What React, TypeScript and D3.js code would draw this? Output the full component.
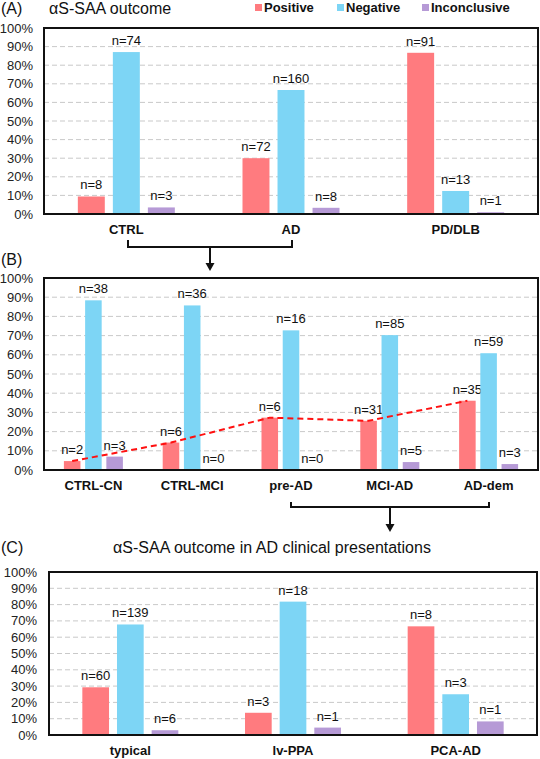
import React from "react";
import * as d3 from "d3";

const seriesNames = ["Positive", "Negative", "Inconclusive"];
const seriesColors = ["#FF7B7F", "#7DD5F5", "#B69AD6"];

const catsA = ["CTRL", "AD", "PD/DLB"];
const posA = [8, 72, 91];
const negA = [74, 160, 13];
const incA = [3, 8, 1];

const catsB = ["CTRL-CN", "CTRL-MCI", "pre-AD", "MCI-AD", "AD-dem"];
const posB = [2, 6, 6, 31, 35];
const negB = [38, 36, 16, 85, 59];
const incB = [3, 0, 0, 5, 3];

const catsC = ["typical", "lv-PPA", "PCA-AD"];
const posC = [60, 3, 8];
const negC = [139, 18, 3];
const incC = [6, 1, 1];

const yTicks = [0, 0.1, 0.2, 0.3, 0.4, 0.5, 0.6, 0.7, 0.8, 0.9, 1.0];

const FONT = "'Liberation Sans', Arial, sans-serif";

type PanelProps = {
  cats: string[];
  series: number[][];
  left: number;
  right: number;
  top: number;
  bottom: number;
  groupHalf: number;
  innerPad: number;
  tickRight: number;
  catLabelY: number;
  trend?: boolean;
};

function Panel(p: PanelProps) {
  const y = d3.scaleLinear().domain([0, 1]).range([p.bottom, p.top]);
  const x = d3.scaleBand().domain(p.cats).range([p.left, p.right]).padding(0);
  const xi = d3
    .scaleBand()
    .domain(seriesNames)
    .range([-p.groupHalf, p.groupHalf])
    .paddingInner(p.innerPad)
    .paddingOuter(0);
  const totals = p.cats.map((_, i) => p.series.reduce((s, arr) => s + arr[i], 0));
  const share = (si: number, ci: number) => p.series[si][ci] / totals[ci];
  const cx = (c: string) => (x(c) as number) + x.bandwidth() / 2;
  const barX = (c: string, s: string) => cx(c) + (xi(s) as number);

  const trendLine = d3
    .line<number>()
    .x((ci) => barX(p.cats[ci], seriesNames[0]) + xi.bandwidth() / 2)
    .y((ci) => y(share(0, ci)));

  return (
    <g>
      {yTicks.slice(1, 10).map((t) => (
        <line
          key={"g" + t}
          x1={p.left}
          x2={p.right}
          y1={y(t)}
          y2={y(t)}
          stroke="#C9C9C9"
          strokeWidth={1}
          strokeDasharray="5,3"
        />
      ))}
      {yTicks.map((t) => (
        <text
          key={"t" + t}
          x={p.tickRight}
          y={y(t)}
          dy="0.35em"
          textAnchor="end"
          fontSize={13}
          fontFamily={FONT}
          fill="#222"
        >
          {d3.format(".0%")(t)}
        </text>
      ))}
      {p.cats.map((c, ci) =>
        seriesNames.map((s, si) => {
          const v = share(si, ci);
          return (
            <g key={c + s}>
              <rect
                x={barX(c, s)}
                y={y(v)}
                width={xi.bandwidth()}
                height={p.bottom - y(v)}
                fill={seriesColors[si]}
              />
              <text
                x={barX(c, s) + xi.bandwidth() / 2}
                y={y(v) - 7}
                textAnchor="middle"
                fontSize={13}
                fontFamily={FONT}
                fill="#111"
              >
                {"n=" + p.series[si][ci]}
              </text>
            </g>
          );
        })
      )}
      {p.trend && (
        <path
          d={trendLine(p.cats.map((_, i) => i)) as string}
          fill="none"
          stroke="#FF1010"
          strokeWidth={2}
          strokeDasharray="6,4"
        />
      )}
      {p.cats.map((c) => (
        <text
          key={"c" + c}
          x={cx(c)}
          y={p.catLabelY}
          textAnchor="middle"
          fontSize={13}
          fontWeight="bold"
          fontFamily={FONT}
          fill="#111"
        >
          {c}
        </text>
      ))}
      <rect
        x={p.left}
        y={p.top}
        width={p.right - p.left}
        height={p.bottom - p.top}
        fill="none"
        stroke="#111"
        strokeWidth={2}
      />
    </g>
  );
}

function Bracket({ x1, x2, yTop, yBot, ax, aEnd }: { x1: number; x2: number; yTop: number; yBot: number; ax: number; aEnd: number }) {
  return (
    <g>
      <path
        d={`M${x1},${yTop} V${yBot} H${x2} V${yTop}`}
        fill="none"
        stroke="#111"
        strokeWidth={2}
      />
      <line x1={ax} x2={ax} y1={yBot} y2={aEnd - 6} stroke="#111" strokeWidth={2} />
      <path d={`M${ax - 4.5},${aEnd - 8} L${ax + 4.5},${aEnd - 8} L${ax},${aEnd} Z`} fill="#111" />
    </g>
  );
}

export default function App() {
  const legendX = [255, 337, 422];
  return (
    <svg
      width={540}
      height={759}
      style={{ position: "absolute", left: 0, top: 0, background: "#fff" }}
    >
      <rect x={0} y={0} width={540} height={759} fill="#fff" />
      <text x={1} y={14} fontSize={16} fontFamily={FONT} fill="#111">(A)</text>
      <text x={49} y={14} fontSize={16} fontFamily={FONT} fill="#111">αS-SAA outcome</text>
      {seriesNames.map((s, i) => (
        <g key={s}>
          <rect x={legendX[i]} y={4} width={7} height={7} fill={seriesColors[i]} />
          <text x={legendX[i] + 9} y={12} fontSize={13} fontWeight="bold" fontFamily={FONT} fill="#111">
            {s}
          </text>
        </g>
      ))}
      <Panel
        cats={catsA}
        series={[posA, negA, incA]}
        left={44}
        right={538}
        top={28}
        bottom={214}
        groupHalf={48.5}
        innerPad={0.23}
        tickRight={33}
        catLabelY={234}
      />
      <Bracket x1={128} x2={292} yTop={240} yBot={247} ax={210} aEnd={271} />
      <text x={1} y={265} fontSize={16} fontFamily={FONT} fill="#111">(B)</text>
      <Panel
        cats={catsB}
        series={[posB, negB, incB]}
        left={44}
        right={538}
        top={278}
        bottom={470}
        groupHalf={29.5}
        innerPad={0.22}
        tickRight={33}
        catLabelY={490}
        trend
      />
      <Bracket x1={291} x2={489} yTop={502} yBot={507} ax={390} aEnd={532} />
      <text x={1} y={553} fontSize={16} fontFamily={FONT} fill="#111">(C)</text>
      <text x={272} y={553} textAnchor="middle" fontSize={16} fontFamily={FONT} fill="#111">
        αS-SAA outcome in AD clinical presentations
      </text>
      <Panel
        cats={catsC}
        series={[posC, negC, incC]}
        left={49}
        right={537}
        top={572}
        bottom={735}
        groupHalf={48}
        innerPad={0.23}
        tickRight={37}
        catLabelY={755}
      />
    </svg>
  );
}
